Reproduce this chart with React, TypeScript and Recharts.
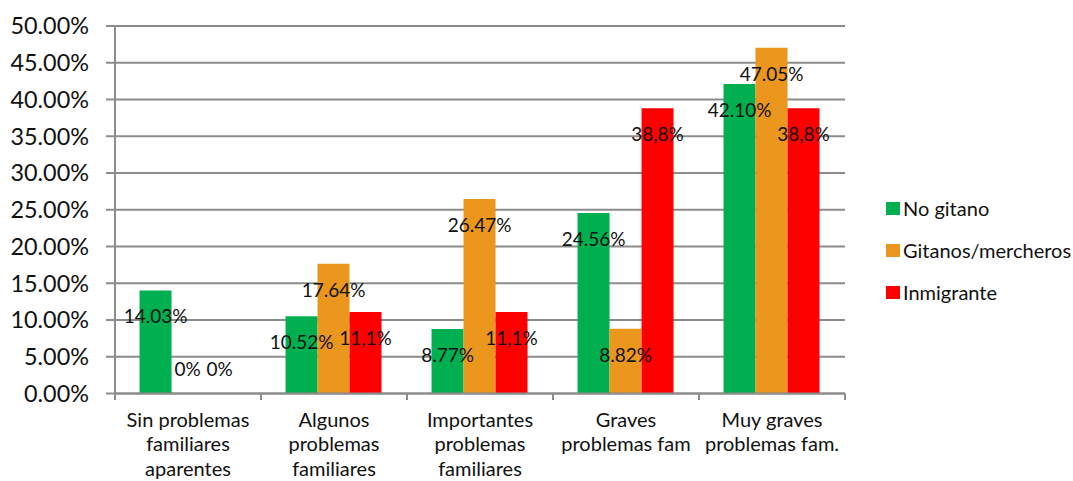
import React from 'react';
import { BarChart, Bar, XAxis, YAxis, CartesianGrid, Legend, LabelList } from 'recharts';

// Family-problem level per group (percentages)
const categories = [
  'Sin problemas\nfamiliares\naparentes',
  'Algunos\nproblemas\nfamiliares',
  'Importantes\nproblemas\nfamiliares',
  'Graves\nproblemas fam',
  'Muy graves\nproblemas fam.',
];
const noGitano = [14.03, 10.52, 8.77, 24.56, 42.1];
const gitanos = [0, 17.64, 26.47, 8.82, 47.05];
const inmigrante = [0, 11.1, 11.1, 38.8, 38.8];
const yTicks = [0, 5, 10, 15, 20, 25, 30, 35, 40, 45, 50];

const seriesNames = ['No gitano', 'Gitanos/mercheros', 'Inmigrante'];
const seriesColors = ['#00B050', '#EB961C', '#FF0000'];

const data = categories.map((category, i) => ({
  category,
  noGitano: noGitano[i],
  gitanos: gitanos[i],
  inmigrante: inmigrante[i],
}));

const FONT = 'Lato, "Open Sans", sans-serif';
const AXIS_GRAY = '#8c8c8c';
const TEXT = '#111111';

const fmtDot = (v: number) => (v === 0 ? '0%' : `${v.toFixed(2)}%`);
const fmtComma = (v: number) => (v === 0 ? '0%' : `${v.toFixed(1).replace('.', ',')}%`);

// Labels sit just inside the bar's top; an empty bar gets its label above the baseline.
const makeLabel = (fmt: (v: number) => string) => (props: any) => {
  const x = Number(props.x);
  const y = Number(props.y);
  const w = Number(props.width);
  const h = Number(props.height);
  const v = Number(props.value);
  const cy = v === 0 ? y + h - 24.5 : y + 26;
  return (
    <text
      x={x + w / 2}
      y={cy}
      dy="0.36em"
      textAnchor="middle"
      fontSize={19}
      fontFamily={FONT}
      fill={TEXT}
    >
      {fmt(v)}
    </text>
  );
};

const CategoryTick = (props: any) => {
  const { x, y, payload, index } = props;
  const half = Number(payload?.offset ?? 0);
  const lines = String(payload.value).split('\n');
  return (
    <g>
      <line x1={x - half} x2={x - half} y1={y} y2={y + 6.5} stroke={AXIS_GRAY} strokeWidth={2} />
      {index === categories.length - 1 && (
        <line x1={x + half} x2={x + half} y1={y} y2={y + 6.5} stroke={AXIS_GRAY} strokeWidth={2} />
      )}
      <text x={x} y={y + 33} textAnchor="middle" fontSize={20} fontFamily={FONT} fill={TEXT}>
        {lines.map((l, i) => (
          <tspan key={i} x={x} dy={i === 0 ? 0 : 24.5}>
            {l}
          </tspan>
        ))}
      </text>
    </g>
  );
};

const LegendContent = (props: any) => {
  const items = [...(props.payload || [])].sort(
    (a: any, b: any) => seriesNames.indexOf(a.value) - seriesNames.indexOf(b.value)
  );
  return (
    <div style={{ fontFamily: FONT, fontSize: 20, color: TEXT }}>
      {items.map((it: any) => (
        <div key={it.value} style={{ height: 42, display: 'flex', alignItems: 'center', whiteSpace: 'nowrap' }}>
          <span style={{ display: 'inline-block', width: 14, height: 13, background: it.color, marginRight: 3 }} />
          <span>{it.value}</span>
        </div>
      ))}
    </div>
  );
};

export default function App() {
  return (
    <div style={{ position: 'absolute', left: 0, top: 0, width: 1073, height: 481, background: '#fff', overflow: 'hidden' }}>
      <BarChart
        width={1073}
        height={481}
        data={data}
        margin={{ top: 26, right: 228, bottom: 0, left: 0 }}
        barCategoryGap="16.8%"
        barGap={0}
      >
        <CartesianGrid horizontal vertical={false} stroke={AXIS_GRAY} strokeWidth={2} />
        <YAxis
          width={115}
          domain={[0, 50]}
          ticks={yTicks}
          tickFormatter={(v: number) => `${v.toFixed(2)}%`}
          tickSize={9}
          tickMargin={17}
          tickLine={{ stroke: AXIS_GRAY, strokeWidth: 2 }}
          axisLine={{ stroke: AXIS_GRAY, strokeWidth: 2 }}
          tick={{ fontSize: 23.4, fontFamily: FONT, fill: TEXT }}
          interval={0}
        />
        <XAxis
          dataKey="category"
          height={87.5}
          interval={0}
          tickSize={0}
          tickMargin={0}
          tickLine={false}
          axisLine={{ stroke: AXIS_GRAY, strokeWidth: 2 }}
          tick={<CategoryTick />}
        />
        <Legend
          layout="vertical"
          align="center"
          verticalAlign="middle"
          content={<LegendContent />}
          wrapperStyle={{ left: 886, top: 187, width: 190, height: 126 }}
        />
        <Bar dataKey="noGitano" name={seriesNames[0]} fill={seriesColors[0]} minPointSize={0.01} isAnimationActive={false}>
          <LabelList dataKey="noGitano" content={makeLabel(fmtDot)} />
        </Bar>
        <Bar dataKey="gitanos" name={seriesNames[1]} fill={seriesColors[1]} minPointSize={0.01} isAnimationActive={false}>
          <LabelList dataKey="gitanos" content={makeLabel(fmtDot)} />
        </Bar>
        <Bar dataKey="inmigrante" name={seriesNames[2]} fill={seriesColors[2]} minPointSize={0.01} isAnimationActive={false}>
          <LabelList dataKey="inmigrante" content={makeLabel(fmtComma)} />
        </Bar>
      </BarChart>
    </div>
  );
}
